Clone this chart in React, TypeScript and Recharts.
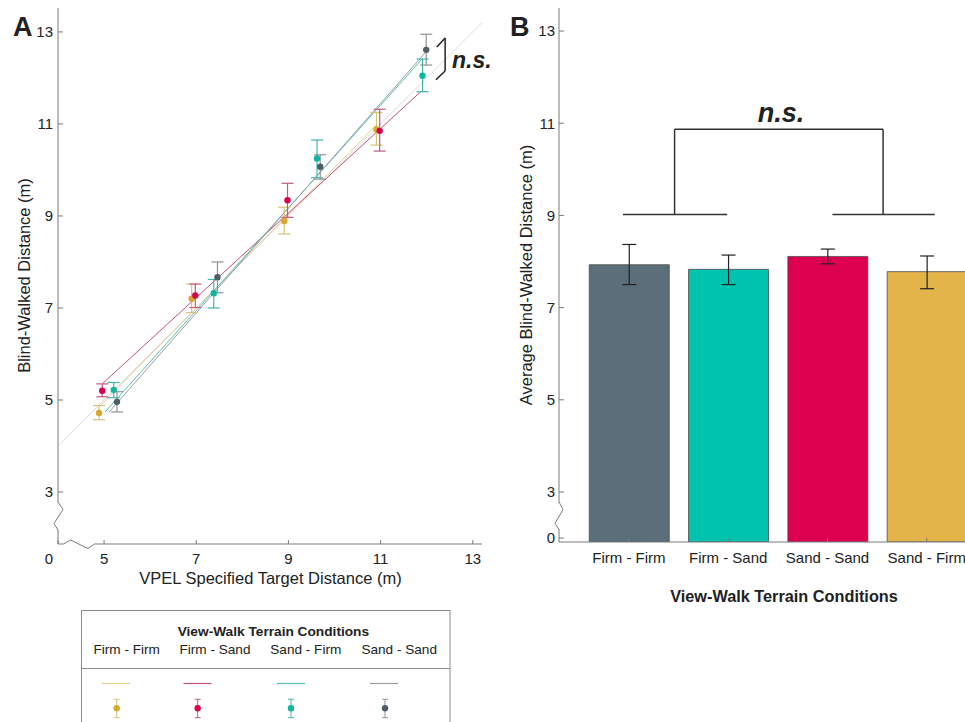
import { ComposedChart, Scatter, Line, Bar, Cell, XAxis, YAxis, ErrorBar, ReferenceLine } from 'recharts'

const FONT = '"Liberation Sans", Arial, Helvetica, sans-serif'
const AXIS = '#7a7a7a'
const INK = '#222'

// ---- panel A: mean blind-walked distance per target, by condition ----
const ffX = [4.89, 6.9, 8.91, 10.91]
const ffY = [4.72, 7.2, 8.89, 10.88]
const ffLo = [4.57, 6.9, 8.61, 10.54]
const ffHi = [4.88, 7.52, 9.19, 11.25]

const fsX = [4.96, 6.98, 8.98, 10.98]
const fsY = [5.2, 7.27, 9.34, 10.85]
const fsLo = [5.07, 7.01, 8.97, 10.41]
const fsHi = [5.35, 7.52, 9.71, 11.32]

const sfX = [5.21, 7.38, 9.62, 11.91]
const sfY = [5.22, 7.32, 10.25, 12.05]
const sfLo = [5.05, 7.0, 9.83, 11.7]
const sfHi = [5.38, 7.62, 10.65, 12.41]

const ssX = [5.28, 7.46, 9.69, 11.99]
const ssY = [4.96, 7.67, 10.07, 12.61]
const ssLo = [4.74, 7.33, 9.8, 12.28]
const ssHi = [5.18, 8.0, 10.33, 12.95]

// fitted lines (end points)
const ffFitX = [4.89, 10.93]
const ffFitY = [4.85, 11.0]
const fsFitX = [4.97, 11.87]
const fsFitY = [5.36, 11.7]
const sfFitX = [5.02, 11.9]
const sfFitY = [4.74, 12.41]
const ssFitX = [5.11, 11.96]
const ssFitY = [4.74, 12.54]
const unity = [4.0, 13.2]

const aXTicks = [4, 5, 7, 9, 11, 13] // 4 sits at the broken origin, shown as "0"
const aYTicks = [3, 5, 7, 9, 11, 13]

// n.s. bracket in panel A
const aBrX = [12.22, 12.4, 12.2]
const aBrY = [12.67, 12.87, 12.15, 11.96]

// ---- panel B ----
const conditions = ['Firm - Firm', 'Firm - Sand', 'Sand - Sand', 'Sand - Firm']
const barMeans = [7.93, 7.83, 8.11, 7.78]
const barLo = [7.5, 7.5, 7.95, 7.41]
const barHi = [8.37, 8.14, 8.27, 8.12]
const barColors = ['#5b6f7b', '#00c3ae', '#dc004e', '#e3b44a']
const bYTicks = [2, 3, 5, 7, 9, 11, 13] // 2 sits just above the break, shown as "0"

const brTop = 10.87
const brFoot = 9.02
const brLeft = [0.94, 1.46, 1.99]
const brRight = [3.05, 3.56, 4.08]

// condition colours for panel A (legend order)
const legendNames = ['Firm - Firm', 'Firm - Sand', 'Sand - Firm', 'Sand - Sand']
const dotCol = ['#d9a630', '#d6004c', '#10b4a0', '#4e5e68']
const barCol = ['#d6c27a', '#c45a80', '#3fb7a6', '#8e9499']
const lineCol = ['#e2d08e', '#c4507a', '#56c0b0', '#9a9ea4']

const pts = (xs: number[], ys: number[], lo: number[], hi: number[]) =>
  xs.map((x, i) => ({ x, y: ys[i], err: [ys[i] - lo[i], hi[i] - ys[i]] }))
const seg = (xs: number[], ys: number[]) => xs.map((x, i) => ({ x, y: ys[i] }))

const groups = [
  { pts: pts(ffX, ffY, ffLo, ffHi), fit: seg(ffFitX, ffFitY) },
  { pts: pts(fsX, fsY, fsLo, fsHi), fit: seg(fsFitX, fsFitY) },
  { pts: pts(sfX, sfY, sfLo, sfHi), fit: seg(sfFitX, sfFitY) },
  { pts: pts(ssX, ssY, ssLo, ssHi), fit: seg(ssFitX, ssFitY) },
]

const barData = conditions.map((c, i) => ({
  pos: i + 1, name: c, mean: barMeans[i], err: [barMeans[i] - barLo[i], barHi[i] - barMeans[i]],
}))

const tickStyle = { fill: INK, fontSize: 15, fontFamily: FONT }

const AXTick = (p: any) => {
  const origin = p.payload.value === aXTicks[0]
  return (
    <text x={origin ? p.x - 9 : p.x} y={p.y} dy={11} textAnchor="middle" fill={INK} fontSize={15} fontFamily={FONT}>
      {origin ? '0' : p.payload.value}
    </text>
  )
}

const dot = (fill: string) => (p: any) => <circle cx={p.cx} cy={p.cy} r={3.2} fill={fill} />

function PanelA() {
  return (
    <ComposedChart width={500} height={600} margin={{ top: 8, right: 18, left: 0, bottom: 0 }}>
      <XAxis dataKey="x" type="number" domain={[4, 13.2]} allowDataOverflow ticks={aXTicks} height={56}
        tickSize={-4} tickMargin={13} tick={<AXTick />} axisLine={{ stroke: AXIS }} tickLine={{ stroke: AXIS }} />
      <YAxis type="number" domain={[1.87, 13.52]} allowDataOverflow ticks={aYTicks} width={58}
        tickSize={-5} tickMargin={10} tick={tickStyle} axisLine={{ stroke: AXIS }} tickLine={{ stroke: AXIS }} />
      <Line data={seg(unity, unity)} dataKey="y" stroke="#dcdcdc" strokeWidth={1} dot={false} activeDot={false} isAnimationActive={false} />
      {groups.map((g, i) => (
        <Line key={'f' + i} data={g.fit} dataKey="y" stroke={lineCol[i]} strokeWidth={1} dot={false} activeDot={false} isAnimationActive={false} />
      ))}
      {groups.map((g, i) => (
        <Scatter key={'s' + i} data={g.pts} dataKey="y" shape={dot(dotCol[i])} isAnimationActive={false}>
          <ErrorBar dataKey="err" direction="y" width={6} stroke={barCol[i]} strokeWidth={1.2} />
        </Scatter>
      ))}
      <ReferenceLine segment={[{ x: aBrX[0], y: aBrY[0] }, { x: aBrX[1], y: aBrY[1] }]} stroke={INK} strokeWidth={1.5} />
      <ReferenceLine segment={[{ x: aBrX[1], y: aBrY[1] }, { x: aBrX[1], y: aBrY[2] }]} stroke={INK} strokeWidth={1.5} />
      <ReferenceLine segment={[{ x: aBrX[1], y: aBrY[2] }, { x: aBrX[2], y: aBrY[3] }]} stroke={INK} strokeWidth={1.5} />
    </ComposedChart>
  )
}

function PanelB() {
  return (
    <ComposedChart width={520} height={600} data={barData} margin={{ top: 8, right: 11, left: 0, bottom: 0 }}>
      <XAxis dataKey="pos" type="number" domain={[0.296, 4.828]} allowDataOverflow ticks={[1, 2, 3, 4]} height={58}
        tickFormatter={(v: number) => conditions[v - 1]} tickSize={-4} tickMargin={14} tick={tickStyle}
        axisLine={{ stroke: AXIS }} tickLine={{ stroke: AXIS }} />
      <YAxis type="number" domain={[1.915, 13.5]} allowDataOverflow ticks={bYTicks} width={59}
        tickFormatter={(v: number) => (v === bYTicks[0] ? '0' : String(v))}
        tickSize={-5} tickMargin={9} tick={tickStyle} axisLine={{ stroke: AXIS }} tickLine={{ stroke: AXIS }} />
      <Bar dataKey="mean" barSize={80} stroke="#4a4a4a" strokeWidth={0.8} isAnimationActive={false}>
        {barData.map((d, i) => <Cell key={d.name} fill={barColors[i]} />)}
        <ErrorBar dataKey="err" direction="y" width={7} stroke={INK} strokeWidth={1.2} />
      </Bar>
      <ReferenceLine segment={[{ x: brLeft[1], y: brTop }, { x: brRight[1], y: brTop }]} stroke="#333" strokeWidth={1.5} />
      <ReferenceLine segment={[{ x: brLeft[1], y: brTop }, { x: brLeft[1], y: brFoot }]} stroke="#333" strokeWidth={1.5} />
      <ReferenceLine segment={[{ x: brRight[1], y: brTop }, { x: brRight[1], y: brFoot }]} stroke="#333" strokeWidth={1.5} />
      <ReferenceLine segment={[{ x: brLeft[0], y: brFoot }, { x: brLeft[2], y: brFoot }]} stroke="#333" strokeWidth={1.5} />
      <ReferenceLine segment={[{ x: brRight[0], y: brFoot }, { x: brRight[2], y: brFoot }]} stroke="#333" strokeWidth={1.5} />
    </ComposedChart>
  )
}

// labels, axis breaks and the legend box
function Overlay() {
  const txt = { fontFamily: FONT, fill: INK }
  const colX = [126.7, 215, 305.8, 399.2]
  const lineX = [116, 197.5, 291, 384]
  const iconX = [116.7, 197.7, 291, 385]
  return (
    <svg width={965} height={722} style={{ position: 'absolute', left: 0, top: 0, pointerEvents: 'none' }}>
      <text x={13} y={36} fontSize={27} fontWeight="bold" {...txt}>A</text>
      <text x={510} y={36} fontSize={27} fontWeight="bold" {...txt}>B</text>

      <text transform="translate(30,275.5) rotate(-90)" textAnchor="middle" fontSize={16.5} {...txt}>Blind-Walked Distance (m)</text>
      <text x={270.5} y={583.5} textAnchor="middle" fontSize={16.5} {...txt}>VPEL Specified Target Distance (m)</text>
      <text transform="translate(532,275) rotate(-90)" textAnchor="middle" fontSize={16.5} {...txt}>Average Blind-Walked Distance (m)</text>
      <text x={784} y={601.5} textAnchor="middle" fontSize={16.3} fontWeight="bold" {...txt}>View-Walk Terrain Conditions</text>

      <text x={452} y={67.5} fontSize={23} fontWeight="bold" fontStyle="italic" {...txt}>n.s.</text>
      <text x={781} y={121.7} textAnchor="middle" fontSize={27} fontWeight="bold" fontStyle="italic" {...txt}>n.s.</text>

      {/* axis breaks */}
      <rect x={55} y={502.5} width={6} height={27} fill="#fff" />
      <polyline points="58,502 63,509.5 54,523.5 58,530" fill="none" stroke={AXIS} strokeWidth={1} />
      <rect x={63.5} y={541} width={31} height={6} fill="#fff" />
      <polyline points="63.5,544 70.5,540 88,548.5 94.5,544" fill="none" stroke={AXIS} strokeWidth={1} />
      <rect x={556} y={502.5} width={6} height={26.5} fill="#fff" />
      <polyline points="559,502 563,509.5 555,523.5 559,529.5" fill="none" stroke={AXIS} strokeWidth={1} />

      {/* legend */}
      <rect x={81.5} y={610.5} width={368.5} height={200} fill="none" stroke="#8c8c8c" strokeWidth={1} />
      <line x1={81.5} x2={450} y1={668.5} y2={668.5} stroke="#8c8c8c" strokeWidth={1} />
      <text x={273.4} y={636} textAnchor="middle" fontSize={13.7} fontWeight="bold" {...txt}>View-Walk Terrain Conditions</text>
      {legendNames.map((n, i) => (
        <text key={n} x={colX[i]} y={654} textAnchor="middle" fontSize={13.6} {...txt}>{n}</text>
      ))}
      {legendNames.map((n, i) => (
        <g key={'k' + n}>
          <line x1={lineX[i] - 14} x2={lineX[i] + 14} y1={683.5} y2={683.5} stroke={lineCol[i]} strokeWidth={1.2} />
          <line x1={iconX[i]} x2={iconX[i]} y1={699.3} y2={717.7} stroke={barCol[i]} strokeWidth={1} />
          <line x1={iconX[i] - 3} x2={iconX[i] + 3} y1={699.3} y2={699.3} stroke={barCol[i]} strokeWidth={1} />
          <line x1={iconX[i] - 3} x2={iconX[i] + 3} y1={717.7} y2={717.7} stroke={barCol[i]} strokeWidth={1} />
          <circle cx={iconX[i]} cy={708.3} r={3.2} fill={dotCol[i]} />
        </g>
      ))}
    </svg>
  )
}

export default function App() {
  return (
    <div style={{ position: 'fixed', left: 0, top: 0, width: 965, height: 722, overflow: 'hidden', background: '#fff', fontFamily: FONT }}>
      <div style={{ position: 'absolute', left: 0, top: 0 }}><PanelA /></div>
      <div style={{ position: 'absolute', left: 500, top: 0 }}><PanelB /></div>
      <Overlay />
    </div>
  )
}
